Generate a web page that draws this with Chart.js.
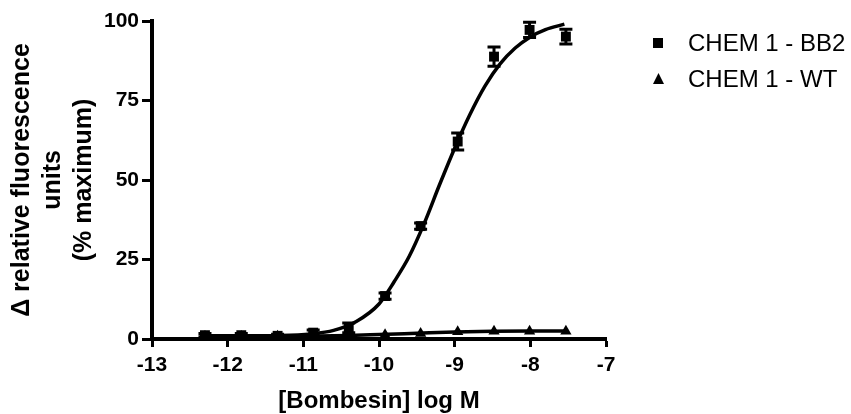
<!DOCTYPE html>
<html>
<head>
<meta charset="utf-8">
<script src="https://cdn.jsdelivr.net/npm/chart.js@4.4.1/dist/chart.umd.min.js"></script>
<style>
  body { margin: 0; background: #fff; }
  #wrap { width: 851px; height: 414px; }
</style>
</head>
<body>
<div id="wrap"><canvas id="myChart" width="851" height="414"></canvas></div>
<script>
// log dose of bombesin, same for both series
var doseLog = [-12.3, -11.82, -11.34, -10.87, -10.4, -9.92, -9.45, -8.96, -8.48, -8.01, -7.53];

// CHEM 1 - BB2 (mean, error)
var bb2Mean = [1.2, 1.2, 1.0, 2.0, 3.5, 13.5, 35.5, 62.1, 88.8, 97.2, 95.1];
var bb2Err = [0.5, 0.5, 0.5, 0.8, 1.5, 1.0, 1.0, 2.7, 3.0, 2.4, 2.3];

// CHEM 1 - WT
var wtMean = [0.8, 0.8, 0.9, 1.0, 1.1, 1.3, 1.7, 2.3, 2.4, 2.4, 2.4];

// fitted curves
var bb2FitX = [-12.3, -11.8, -11.3, -10.9, -10.6, -10.3, -10.0, -9.8, -9.6, -9.4, -9.2, -9.0, -8.8, -8.6, -8.4, -8.2, -8.0, -7.8, -7.55];
var bb2FitY = [1.0, 1.0, 1.1, 1.6, 2.7, 5.5, 11, 18, 26, 36.5, 48.5, 60, 70.5, 79.5, 86.5, 91.5, 95, 97.3, 99.0];
var wtFitX = [-12.3, -11.0, -10.4, -10.0, -9.5, -9.0, -8.5, -8.0, -7.53];
var wtFitY = [0.8, 0.9, 1.1, 1.4, 1.8, 2.2, 2.4, 2.5, 2.5];

// axis ticks
var xTicks = [-13, -12, -11, -10, -9, -8, -7];
var yTicks = [0, 25, 50, 75, 100];

var legendLabels = ["CHEM 1 - BB2", "CHEM 1 - WT"];

var fontName = "'Liberation Sans', Arial, Helvetica, sans-serif";

function toPoints(xs, ys) {
    var out = [];
    for (var i = 0; i < xs.length; i++) {
        out.push({x: xs[i], y: ys[i]});
    }
    return out;
}

// error bars for datasets that carry an "errors" array
var errorBars = {
    id: 'errorBars',
    afterDatasetsDraw: function(chart) {
        var ctx = chart.ctx;
        var xs = chart.scales.x;
        var ys = chart.scales.y;
        chart.data.datasets.forEach(function(ds) {
            if (!ds.errors) return;
            ctx.save();
            ctx.strokeStyle = '#000';
            ctx.lineWidth = 3;
            for (var i = 0; i < ds.data.length; i++) {
                var px = xs.getPixelForValue(ds.data[i].x);
                var top = ys.getPixelForValue(ds.data[i].y + ds.errors[i]);
                var bot = ys.getPixelForValue(ds.data[i].y - ds.errors[i]);
                ctx.beginPath();
                ctx.moveTo(px, top); ctx.lineTo(px, bot);
                ctx.moveTo(px - 6.5, top); ctx.lineTo(px + 6.5, top);
                ctx.moveTo(px - 6.5, bot); ctx.lineTo(px + 6.5, bot);
                ctx.stroke();
            }
            ctx.restore();
        });
    }
};

// legend on the right, marker + text
var sideLegend = {
    id: 'sideLegend',
    afterDraw: function(chart) {
        var ctx = chart.ctx;
        ctx.save();
        ctx.fillStyle = '#000';
        ctx.font = "24px " + fontName;
        ctx.textBaseline = 'middle';
        ctx.textAlign = 'left';
        // square
        ctx.fillRect(653, 38, 10, 10);
        ctx.fillText(legendLabels[0], 688, 44);
        // triangle
        ctx.beginPath();
        ctx.moveTo(658.5, 73);
        ctx.lineTo(664, 84);
        ctx.lineTo(653, 84);
        ctx.closePath();
        ctx.fill();
        ctx.fillText(legendLabels[1], 688, 80);
        ctx.restore();
    }
};

var ctx = document.getElementById("myChart").getContext("2d");

var myChart = new Chart(ctx, {
    type: 'scatter',
    data: {
        datasets: [
            {
                label: legendLabels[0],
                data: toPoints(doseLog, bb2Mean),
                errors: bb2Err,
                pointStyle: 'rect',
                pointRadius: 7,
                backgroundColor: '#000',
                borderWidth: 0,
                order: 0
            },
            {
                label: legendLabels[1],
                data: toPoints(doseLog, wtMean),
                pointStyle: 'triangle',
                pointRadius: 6.5,
                backgroundColor: '#000',
                borderWidth: 0,
                order: 0
            },
            {
                label: 'BB2 fit',
                data: toPoints(bb2FitX, bb2FitY),
                showLine: true,
                pointRadius: 0,
                borderColor: '#000',
                borderWidth: 3.5,
                cubicInterpolationMode: 'monotone',
                order: 1
            },
            {
                label: 'WT fit',
                data: toPoints(wtFitX, wtFitY),
                showLine: true,
                pointRadius: 0,
                borderColor: '#000',
                borderWidth: 3.5,
                cubicInterpolationMode: 'monotone',
                order: 1
            }
        ]
    },
    options: {
        responsive: false,
        animation: false,
        devicePixelRatio: 1,
        clip: false,
        layout: { padding: { top: 21, right: 245, bottom: 0, left: 0 } },
        plugins: {
            legend: { display: false },
            tooltip: { enabled: false }
        },
        scales: {
            x: {
                type: 'linear',
                min: -13,
                max: -7,
                afterFit: function(scale) { scale.height = 75; },
                afterBuildTicks: function(scale) {
                    scale.ticks = xTicks.map(function(v) { return {value: v}; });
                },
                border: { display: true, color: '#000', width: 4 },
                grid: { display: true, drawOnChartArea: false, tickLength: 8, tickWidth: 3, tickColor: '#000', color: '#000' },
                ticks: { color: '#000', padding: 6, font: { family: fontName, size: 21, weight: 'bold' } },
                title: {
                    display: true,
                    text: '[Bombesin] log M',
                    color: '#000',
                    font: { family: fontName, size: 24, weight: 'bold', lineHeight: 1 },
                    padding: { top: 0, bottom: 1 }
                }
            },
            y: {
                min: 0,
                max: 100,
                afterFit: function(scale) { scale.width = 152; },
                afterBuildTicks: function(scale) {
                    scale.ticks = yTicks.map(function(v) { return {value: v}; });
                },
                border: { display: true, color: '#000', width: 4 },
                grid: { display: true, drawOnChartArea: false, tickLength: 10, tickWidth: 3, tickColor: '#000', color: '#000' },
                ticks: { color: '#000', padding: 3, font: { family: fontName, size: 21, weight: 'bold' } },
                title: {
                    display: true,
                    text: ['\u0394 relative fluorescence', 'units', '(% maximum)'],
                    color: '#000',
                    font: { family: fontName, size: 25, weight: 'bold', lineHeight: '31px' },
                    padding: { top: 7, bottom: 0 }
                }
            }
        }
    },
    plugins: [errorBars, sideLegend]
});
</script>
</body>
</html>
